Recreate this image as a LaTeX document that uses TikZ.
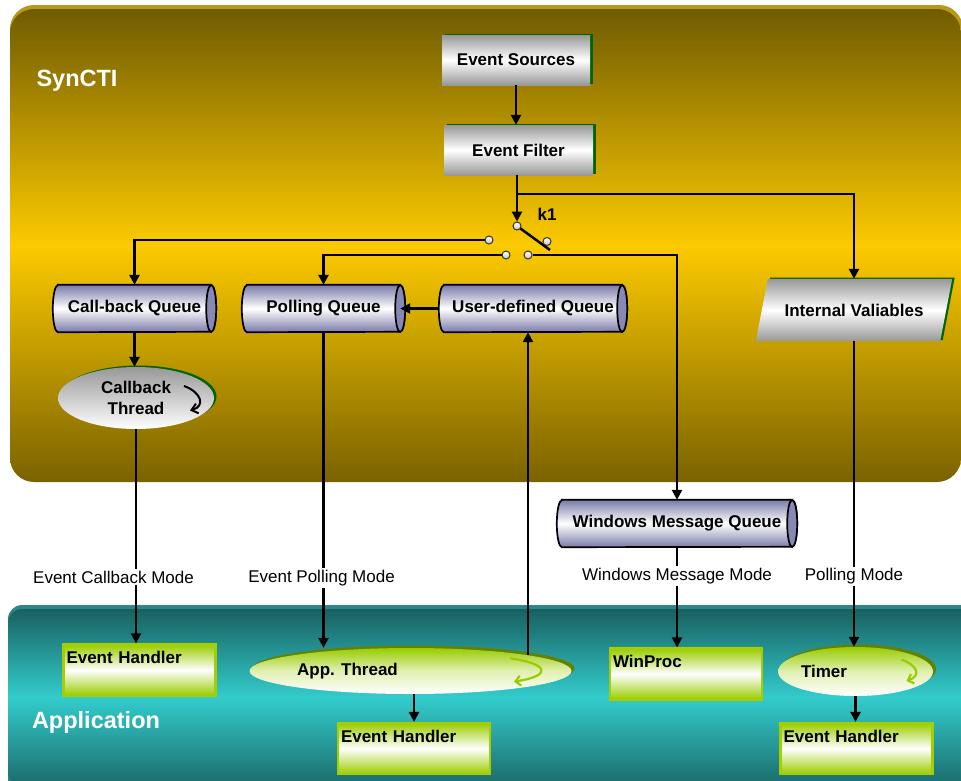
\documentclass[tikz,border=0pt]{standalone}
\usepackage{fontspec}
\setmainfont{Liberation Sans}
\usetikzlibrary{calc,shapes.geometric,shadows,arrows.meta}

\pgfdeclarelayer{panel}
\pgfdeclarelayer{body}
\pgfsetlayers{panel,body,main}

\definecolor{goldDark}{RGB}{112,91,2}
\definecolor{goldLow}{RGB}{122,98,0}
\definecolor{goldBright}{RGB}{252,202,0}
\definecolor{goldRim}{RGB}{184,154,24}
\definecolor{tealDark}{RGB}{25,96,96}
\definecolor{tealLow}{RGB}{28,106,106}
\definecolor{tealBright}{RGB}{51,204,204}
\definecolor{tealRim}{RGB}{44,136,136}
\definecolor{silver}{RGB}{152,152,152}
\definecolor{leaf}{RGB}{153,204,0}
\definecolor{leafEdge}{RGB}{165,206,0}
\definecolor{olive}{RGB}{100,128,0}
\definecolor{boxGreen}{RGB}{0,100,0}
\definecolor{lavender}{RGB}{122,122,168}
\definecolor{capFill}{RGB}{136,136,180}
\definecolor{contact}{RGB}{236,220,220}

\tikzset{
  lbl/.style={font=\fontsize{17}{21.5}\selectfont\bfseries},
  mode/.style={font=\fontsize{17}{20}\selectfont, fill=white, inner sep=2pt},
  wire/.style={line width=2.5pt},
  arrow/.style={wire, -{Triangle[length=10pt,width=10pt]}},
  silverbox/.style={lbl, rectangle, inner sep=0pt, minimum height=50pt,
    top color=silver, bottom color=silver, middle color=white,
    general shadow={fill=boxGreen, shadow xshift=2.5pt, shadow yshift=1.2pt}},
  queue/.style={lbl, rectangle, inner sep=0pt, minimum height=47pt},
  handler/.style={lbl, rectangle, draw=leafEdge, line width=2.2pt,
    top color=leaf, bottom color=leaf, middle color=white,
    minimum width=152pt, minimum height=51pt, text width=146pt, align=left,
    inner xsep=3pt, inner ysep=0pt, text height=19pt, text depth=32pt},
  silverthread/.style={lbl, ellipse, inner sep=0pt, align=center,
    top color=silver, bottom color=white,
    general shadow={fill=boxGreen, shadow xshift=2.5pt, shadow yshift=1.5pt}},
  greenthread/.style={ellipse, inner sep=0pt,
    top color=leaf, bottom color=white, middle color=leaf!30!white,
    general shadow={fill=olive, shadow xshift=3pt, shadow yshift=2.5pt}},
  contactdot/.style={circle, minimum size=8pt, inner sep=0pt, draw=black!80,
    line width=1pt, top color=white, bottom color=contact!70!gray},
  panellabel/.style={font=\fontsize{23.5}{28}\selectfont\bfseries, text=white},
}

% horizontal queue cylinder drawn around a rectangle node
\newcommand\cylr{23.5pt}
\newcommand\queuebody[1]{%
  \begin{pgfonlayer}{body}
    \shade[top color=lavender, bottom color=lavender, middle color=white,
           draw=black, line width=1.7pt]
      ($(#1.north west)+(5pt,0pt)$) -- ($(#1.north east)+(-5pt,0pt)$)
      arc[start angle=90, end angle=-90, x radius=5pt, y radius=\cylr]
      -- ($(#1.south west)+(5pt,0pt)$)
      arc[start angle=270, end angle=90, x radius=5pt, y radius=\cylr] -- cycle;
    \filldraw[fill=capFill, line width=1.7pt]
      ($(#1.east)+(-5pt,0pt)$) ellipse[x radius=5pt, y radius=\cylr];
  \end{pgfonlayer}
  \coordinate (#1-cap) at ($(#1.east)+(-5pt,0pt)$);
}

\begin{document}
\begin{tikzpicture}[x=1pt, y=-1pt]
\useasboundingbox (0,0) rectangle (961,780);

% ---------- layer panels ----------
\begin{pgfonlayer}{panel}
  \fill[goldRim, rounded corners=24pt] (10,5) rectangle (963,478);
  \shade[top color=goldDark, bottom color=goldLow, middle color=goldBright,
         rounded corners=24pt] (10,9) rectangle (961,482);
  \fill[tealRim, rounded corners=14pt] (8,605) rectangle (990,800);
  \shade[top color=tealDark, bottom color=tealLow, middle color=tealBright,
         rounded corners=14pt] (8,609) rectangle (985,786);
\end{pgfonlayer}

\node[panellabel] (syn) at (77,81) {SynCTI};
\node[panellabel] (appl) at (96,722) {Application};

% ---------- event source chain ----------
\node[silverbox, minimum width=148pt] (es) at (516,60) {Event Sources};
\node[silverbox, minimum width=149pt] (ef) at (518.5,150) {Event Filter};

% ---------- switch k1 ----------
\coordinate (split) at (517,194);
\coordinate (blade) at (550,250);
\draw[wire] (517,226) -- (blade);
\node[contactdot] (k) at (517,226) {};
\node[contactdot] (c1) at (489,240) {};
\node[contactdot] (c2) at (547,241.5) {};
\node[contactdot] (c3) at (506,255) {};
\node[contactdot] (c4) at (528,255) {};
\node[lbl] (k1) at (547,214) {k1};

% ---------- queues ----------
\node[queue, minimum width=163pt] (cbq) at (134.5,308.5) {Call-back Queue};
\node[queue, minimum width=163pt] (pq) at (323.5,308.5) {Polling Queue};
\node[queue, minimum width=188pt] (uq) at (533,308.5) {User-defined Queue};
\node[queue, minimum width=240pt] (wmq) at (677,523.5) {Windows Message Queue};
\queuebody{cbq}
\queuebody{pq}
\queuebody{uq}
\queuebody{wmq}

% ---------- internal variables (parallelogram) ----------
\node[lbl, rectangle, inner sep=0pt, minimum width=184pt, minimum height=62pt]
  (iv) at (854,310) {Internal Valiables};
\begin{pgfonlayer}{body}
  \fill[boxGreen] ($(iv.north west)+(8.5pt,1.2pt)$) -- ($(iv.north east)+(8.5pt,1.2pt)$)
    -- ($(iv.south east)+(-3.5pt,1.2pt)$) -- ($(iv.south west)+(-3.5pt,1.2pt)$) -- cycle;
  \shade[top color=silver, bottom color=silver, middle color=white]
    ($(iv.north west)+(6pt,0pt)$) -- ($(iv.north east)+(6pt,0pt)$)
    -- ($(iv.south east)+(-6pt,0pt)$) -- ($(iv.south west)+(-6pt,0pt)$) -- cycle;
\end{pgfonlayer}

% ---------- callback thread ----------
\node[silverthread, minimum width=156pt, minimum height=62pt] (ct) at (136,398)
  {Callback\\Thread};
\draw[line width=2pt, -{Straight Barb[length=6pt,width=10pt]}]
  ($(ct.center)+(48,-12)$) .. controls ($(ct.center)+(65,-6)$) and ($(ct.center)+(70,8)$)
  .. ($(ct.center)+(54,12.5)$);

% ---------- application side ----------
\node[handler] (eh1) at (139.5,670) {Event Handler};
\node[greenthread, minimum width=322pt, minimum height=46pt,
      label={[lbl, xshift=-63pt]center:App. Thread}] (app) at (410.5,671) {};
\node[handler] (eh2) at (414,748.5) {Event Handler};
\node[handler] (wp) at (686,674) {WinProc};
\node[greenthread, minimum width=155pt, minimum height=49pt,
      label={[lbl, xshift=-31.5pt]center:Timer}] (tm) at (855.5,671.5) {};
\node[handler] (eh3) at (856.5,748.5) {Event Handler};

\draw[leaf, line width=2.2pt, -{Straight Barb[length=5pt,width=10pt]}]
  ($(app.center)+(99.5,-12.7)$) .. controls ($(app.center)+(135,-8)$) and ($(app.center)+(145,4)$)
  .. ($(app.center)+(103.5,10.7)$);
\draw[leaf, line width=2.2pt, -{Straight Barb[length=5pt,width=10pt]}]
  ($(tm.center)+(46,-12)$) .. controls ($(tm.center)+(62,-6)$) and ($(tm.center)+(66,4)$)
  .. ($(tm.center)+(51,9.5)$);

% ---------- connectors ----------
\draw[arrow] (es.south) -- (es.south |- ef.north);
\draw[arrow] (k |- ef.south) -- (k.north);
\draw[arrow] (split) -| (iv.north);
\draw[arrow] (c1.west) -| (cbq.north);
\draw[arrow] (c3.west) -| (pq.north);
\draw[arrow] (c4.east) -| (wmq.north);
\draw[arrow] (uq.west) -- (pq-cap);
\draw[arrow] (cbq.south) -- (cbq.south |- ct.north);

\draw[arrow] (ct.south) -- node[mode, pos=0.69, xshift=-22.5pt] {Event Callback Mode}
  (ct.south |- eh1.north);
\draw[arrow] (pq.south) -- node[mode, pos=0.78, xshift=-2pt] {Event Polling Mode}
  (pq.south |- app.north);
\draw[arrow] (wmq.south) -- node[mode, pos=0.29] {Windows Message Mode}
  (wmq.south |- wp.north);
\draw[arrow] (iv.south) -- node[mode, pos=0.77] {Polling Mode}
  (iv.south |- tm.north);

\coordinate (appout) at (528,654.5);
\draw[arrow] (appout) -- (appout |- uq.south);
\draw[arrow] (eh2.north |- app.south) -- (eh2.north);
\draw[arrow] (tm.south) -- (tm.south |- eh3.north);
\end{tikzpicture}
\end{document}
